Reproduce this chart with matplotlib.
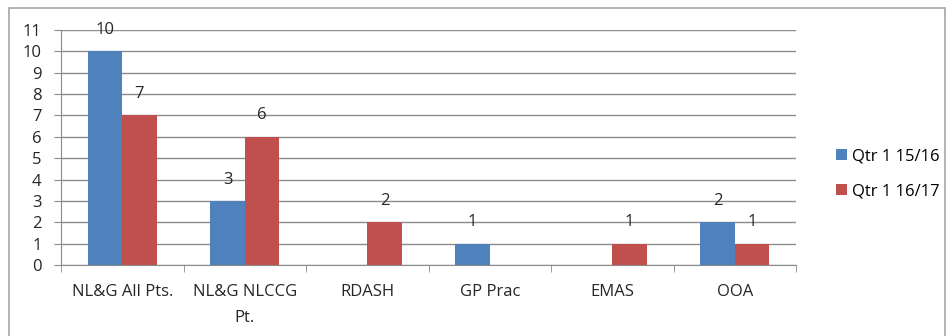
import numpy as np
import matplotlib.pyplot as plt
from matplotlib.patches import Rectangle

categories = ['NL&G All Pts.', 'NL&G NLCCG\nPt.', 'RDASH', 'GP Prac', 'EMAS', 'OOA']
q1_1516 = [10, 3, 0, 1, 0, 2]
q1_1617 = [7, 6, 2, 0, 1, 1]
series_names = ['Qtr 1 15/16', 'Qtr 1 16/17']
colors = ['#4F81BD', '#C0504D']

plt.rcParams['font.family'] = ['Open Sans', 'DejaVu Sans']
fig = plt.figure(figsize=(9.52, 3.36), dpi=100)
fig.patches.append(Rectangle((9 / 952, -0.05), 936 / 952, 1 - 8 / 336 + 0.05,
                             transform=fig.transFigure, fill=False,
                             edgecolor='#A6A6A6', linewidth=1.2))

ax = fig.add_axes([61 / 952, 1 - 265 / 336, 735 / 952, 235 / 336])
x = np.arange(len(categories))
w = 0.28
for i, (vals, name, c) in enumerate(zip([q1_1516, q1_1617], series_names, colors)):
    pos = x + (i - 0.5) * w
    ax.bar(pos, vals, width=w, color=c, label=name)
    for p, v in zip(pos, vals):
        if v:
            ax.text(p, v + 1.0, str(v), ha='center', va='center', fontsize=12, color='#262626')

ax.set_xlim(-0.5, len(categories) - 0.5)
ax.set_ylim(0, 11)
ax.set_yticks(range(12))
ax.yaxis.grid(True, color='#8C8C8C', linewidth=1)
ax.set_axisbelow(True)
ax.set_xticks(x)
ax.set_xticklabels(categories, fontsize=12, color='#262626', linespacing=1.8)
ax.set_xticks(np.arange(-0.5, len(categories)), minor=True)
ax.tick_params(axis='x', which='major', length=0, pad=14)
ax.tick_params(axis='x', which='minor', length=5, color='#8C8C8C', direction='out')
ax.tick_params(axis='y', length=5, color='#8C8C8C', labelsize=12, labelcolor='#262626', pad=9)
for s in ['top', 'right']:
    ax.spines[s].set_visible(False)
for s in ['left', 'bottom']:
    ax.spines[s].set_color('#8C8C8C')

ax.legend(loc='center left', bbox_to_anchor=(1.034, 0.387), frameon=False,
          fontsize=12, handlelength=0.66, handleheight=0.66, handletextpad=0.3,
          labelspacing=1.15)

fig.savefig('out.png', dpi=100)
